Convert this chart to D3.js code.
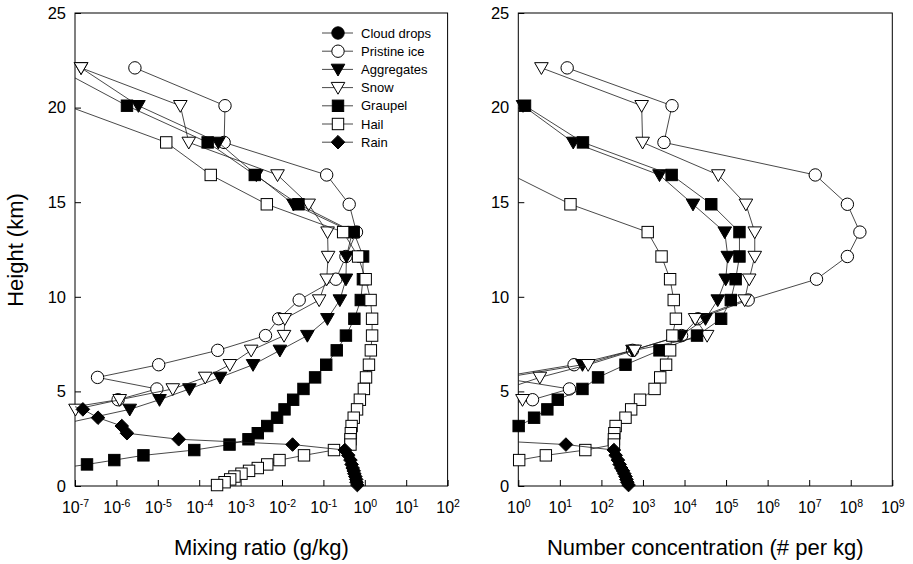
<!DOCTYPE html>
<html><head><meta charset="utf-8">
<script src="https://cdn.jsdelivr.net/npm/d3@7"></script>
<style>
body{margin:0;background:#fff}
svg{display:block}
text{font-family:"Liberation Sans",Arial,Helvetica,sans-serif;fill:#000}
</style>
</head><body>
<svg id="chart" width="913" height="564"></svg>
<script>
// ---------------- DATA ----------------
const heights = [22.1, 20.1, 18.16, 16.44, 14.89, 13.42, 12.13, 10.93, 9.83, 8.84, 7.95, 7.17, 6.41, 5.74, 5.13, 4.56, 4.05, 3.61, 3.17, 2.79, 2.47, 2.19, 1.90, 1.62, 1.37, 1.14, 0.95, 0.80, 0.65, 0.50, 0.35, 0.20, 0.05];
const seriesNames = ["Cloud drops", "Pristine ice", "Aggregates", "Snow", "Graupel", "Hail", "Rain"];
const seriesSymbols = ["circleFilled", "circleOpen", "triDownFilled", "triDownOpen", "squareFilled", "squareOpen", "diamondFilled"];
const N = null;

// Mixing ratio (g/kg), aligned with heights
const mixCloud     = [N,N,N,N,N,N,N,N,N,N,N,N,N,N,N,N,N,N,N,N,N,N,N,N,N,N,N,N,N,N,N,N,N];
const mixPristine  = [2.8e-6, 4.2e-4, 4.0e-4, 0.12, 0.42, 0.63, 0.35, 0.20, 0.026, 8.3e-3, 4.0e-3, 2.8e-4, 1.05e-5, 3.5e-7, 9.5e-6, 1.1e-6, 4e-8, N,N,N,N,N,N,N,N,N,N,N,N,N,N,N,N];
const mixAggregates= [1.4e-7, 3.4e-6, 2.9e-4, 2.4e-3, 1.9e-2, 0.5, 0.36, 0.35, 0.25, 0.125, 0.041, 8.9e-3, 2.0e-3, 3.2e-4, 5.8e-5, 1.1e-5, 2.1e-6, N, 3e-8, N,N,N,N,N,N,N,N,N,N,N,N,N,N];
const mixSnow      = [1.4e-7, 3.5e-5, 5.6e-5, 7.8e-3, 0.044, 0.126, 0.13, 0.12, 0.079, 0.0117, 0.0112, 1.8e-3, 5.5e-4, 1.4e-4, 2.3e-5, 1.2e-6, 1.03e-7, 1e-8, N,N,N,N,N,N,N,N,N,N,N,N,N,N,N];
const mixGraupel   = [3.5e-8, 1.8e-6, 1.6e-4, 2.2e-3, 0.025, 0.54, 0.91, 0.9, 0.8, 0.56, 0.35, 0.21, 0.117, 0.063, 0.033, 0.0186, 0.0115, 7.6e-3, 4.4e-3, 2.6e-3, 1.55e-3, 5.4e-4, 7.6e-5, 4.5e-6, 8.9e-7, 1.95e-7, 4.7e-8, N,N,N,N,N,N];
const mixHail      = [N, 6.3e-8, 1.6e-5, 1.9e-4, 4.3e-3, 0.30, 0.69, 1.05, 1.38, 1.5, 1.5, 1.4, 1.26, 1.07, 0.95, 0.76, 0.65, 0.54, 0.48, 0.46, 0.45, 0.45, 0.18, 0.034, 8.7e-3, 4.4e-3, 2.6e-3, 1.6e-3, 1.05e-3, 7.1e-4, 5.6e-4, 4.1e-4, 2.7e-4];
const mixRain      = [N,N,N,N,N,N,N,N,N,N,N,N,N,N,N, 3.2e-8, 1.55e-7, 3.6e-7, 1.35e-6, 1.8e-6, 3.2e-5, 0.018, 0.33, 0.40, 0.45, 0.48, 0.51, 0.54, 0.56, 0.59, 0.62, 0.63, 0.66];

// Number concentration (# per kg), aligned with heights
const numCloud     = [N,N,N,N,N,N,N,N,N,N,N,N,N,N,N,N,N,N,N,N,N,N,N,N,N,N,N,N,N,N,N,N,N];
const numPristine  = [15, 5000, 3200, 1.4e7, 8.3e7, 1.66e8, 8.3e7, 1.5e7, 3.4e5, 2.1e4, 8500, 560, 22, 0.32, 17, 2.2, 0.1, N,N,N,N,N,N,N,N,N,N,N,N,N,N,N,N];
const numAggregates= [0.01, 1.3, 21, 2500, 1.6e4, 9.3e4, 1.1e5, 9.8e4, 6.3e4, 3.2e4, 8100, 560, 35, 0.5, 0.03, N,N,N,N,N,N,N,N,N,N,N,N,N,N,N,N,N,N];
const numSnow      = [3.6, 930, 980, 6.5e4, 3.0e5, 4.9e5, 4.9e5, 3.6e5, 2.8e5, 1.8e4, 3.5e4, 630, 48, 3.3, 0.5, 1.26, 0.1, N,N,N,N,N,N,N,N,N,N,N,N,N,N,N,N];
const numGraupel   = [1e-3, 1.45, 36, 4900, 4.4e4, 2.1e5, 2.1e5, 1.7e5, 1.3e5, 7.6e4, 2.0e4, 2500, 380, 83, 35, 8.9, 5.0, 2.4, 1.02, 0.16, N,N,N,N,N,N,N,N,N,N,N,N,N];
const numHail      = [N,N,N, 0.7, 18, 1300, 2800, 4500, 5500, 6200, 5100, 4500, 3600, 2600, 1900, 850, 520, 380, 220, 205, 200, 200, 41, 4.6, 1.05, 0.16, N,N,N,N,N,N,N];
const numRain      = [N,N,N,N,N,N,N,N,N,N,N,N,N,N,N,N,N,N,N,N, 0.06, 14, 200, 220, 250, 275, 300, 330, 355, 380, 400, 420, 450];

const heightTicks = [0, 5, 10, 15, 20, 25];
const mixTicks = [1e-7, 1e-6, 1e-5, 1e-4, 1e-3, 1e-2, 1e-1, 1e0, 1e1, 1e2];
const mixTickExp = ["-7", "-6", "-5", "-4", "-3", "-2", "-1", "0", "1", "2"];
const numTicks = [1e0, 1e1, 1e2, 1e3, 1e4, 1e5, 1e6, 1e7, 1e8, 1e9];
const numTickExp = ["0", "1", "2", "3", "4", "5", "6", "7", "8", "9"];

// ---------------- DRAW ----------------
const svg = d3.select("#chart");
const yTop = 13, yBot = 486;
const y = d3.scaleLinear().domain([0, 25]).range([yBot, yTop]);
const FONT = "Liberation Sans, Arial, sans-serif";

const panels = [
  {id: "mix", x0: 75, x1: 447.6, domain: [1e-7, 1e2], ticks: mixTicks, exps: mixTickExp,
   data: [mixCloud, mixPristine, mixAggregates, mixSnow, mixGraupel, mixHail, mixRain],
   title: "Mixing ratio (g/kg)", legend: true},
  {id: "num", x0: 518.3, x1: 892.3, domain: [1e0, 1e9], ticks: numTicks, exps: numTickExp,
   data: [numCloud, numPristine, numAggregates, numSnow, numGraupel, numHail, numRain],
   title: "Number concentration (# per kg)", legend: false}
];

function drawMarker(g, type, cx, cy) {
  const filled = /Filled/.test(type);
  const fill = filled ? "#000" : "#fff";
  let el;
  if (type.startsWith("circle")) {
    el = g.append("circle").attr("cx", cx).attr("cy", cy).attr("r", 6.2);
  } else if (type.startsWith("square")) {
    const s = 11.4;
    el = g.append("rect").attr("x", cx - s / 2).attr("y", cy - s / 2).attr("width", s).attr("height", s);
  } else if (type.startsWith("triDown")) {
    el = g.append("path").attr("d", `M${cx - 6.8},${cy - 5.2}L${cx + 6.8},${cy - 5.2}L${cx},${cy + 6.6}Z`);
  } else if (type.startsWith("diamond")) {
    const r = 6.8;
    el = g.append("path").attr("d", `M${cx},${cy - r}L${cx + r},${cy}L${cx},${cy + r}L${cx - r},${cy}Z`);
  }
  el.attr("fill", fill).attr("stroke", "#000").attr("stroke-width", 1);
}

panels.forEach((p, pi) => {
  const x = d3.scaleLog().domain(p.domain).range([p.x0, p.x1]);
  const g = svg.append("g");
  const clipId = "clip-" + p.id;
  svg.append("defs").append("clipPath").attr("id", clipId)
    .append("rect").attr("x", p.x0).attr("y", yTop).attr("width", p.x1 - p.x0).attr("height", yBot - yTop);

  // y axis
  const yAxis = d3.axisLeft(y).tickValues(heightTicks).tickSizeInner(-6).tickSizeOuter(0).tickPadding(9);
  const gy = g.append("g").attr("transform", `translate(${p.x0},0)`).call(yAxis);
  gy.select(".domain").remove();
  gy.selectAll("line").attr("stroke", "#000");
  gy.selectAll("text").attr("font-size", 16.5).attr("font-family", FONT);

  // x axis
  const xAxis = d3.axisBottom(x).tickValues(p.ticks).tickSizeInner(-6).tickSizeOuter(0).tickFormat("");
  const gx = g.append("g").attr("transform", `translate(0,${yBot})`).call(xAxis);
  gx.select(".domain").remove();
  gx.selectAll("line").attr("stroke", "#000");
  gx.selectAll(".tick text").remove();
  gx.selectAll(".tick").each(function(d, i) {
    const t = d3.select(this).append("text").attr("y", 27).attr("text-anchor", "middle")
      .attr("font-size", 16).attr("font-family", FONT);
    t.append("tspan").text("10");
    t.append("tspan").attr("dy", -6).attr("font-size", 10.5).text(p.exps[i]);
  });

  // frame
  g.append("rect").attr("x", p.x0).attr("y", yTop).attr("width", p.x1 - p.x0).attr("height", yBot - yTop)
    .attr("fill", "none").attr("stroke", "#000").attr("stroke-width", 1);

  // series
  const line = d3.line().x(d => x(d.v)).y(d => y(d.h));
  p.data.forEach((arr, si) => {
    const pts = heights.map((h, k) => ({h: h, v: arr[k]})).filter(d => d.v !== null);
    if (pts.length === 0) return;
    const sg = g.append("g");
    sg.append("path").datum(pts).attr("d", line).attr("fill", "none")
      .attr("stroke", "#1a1a1a").attr("stroke-width", 0.8).attr("clip-path", `url(#${clipId})`);
    pts.forEach(d => {
      if (d.v >= p.domain[0] * 0.999 && d.v <= p.domain[1]) drawMarker(sg, seriesSymbols[si], x(d.v), y(d.h));
    });
  });

  // x title
  svg.append("text").attr("x", (p.x0 + p.x1) / 2).attr("y", 555).attr("text-anchor", "middle")
    .attr("font-size", 22).text(p.title);

  // legend
  if (p.legend) {
    const lg = svg.append("g");
    seriesNames.forEach((name, i) => {
      const ly = 33 + i * 18.2;
      lg.append("line").attr("x1", 322).attr("x2", 353).attr("y1", ly).attr("y2", ly)
        .attr("stroke", "#1a1a1a").attr("stroke-width", 0.8);
      drawMarker(lg, seriesSymbols[i], 338, ly);
      lg.append("text").attr("x", 361).attr("y", ly + 4.6).attr("font-size", 13).text(name);
    });
  }
});

// y title
svg.append("text").attr("transform", "translate(23,250) rotate(-90)").attr("text-anchor", "middle")
  .attr("font-size", 22).text("Height (km)");
</script>
</body></html>
